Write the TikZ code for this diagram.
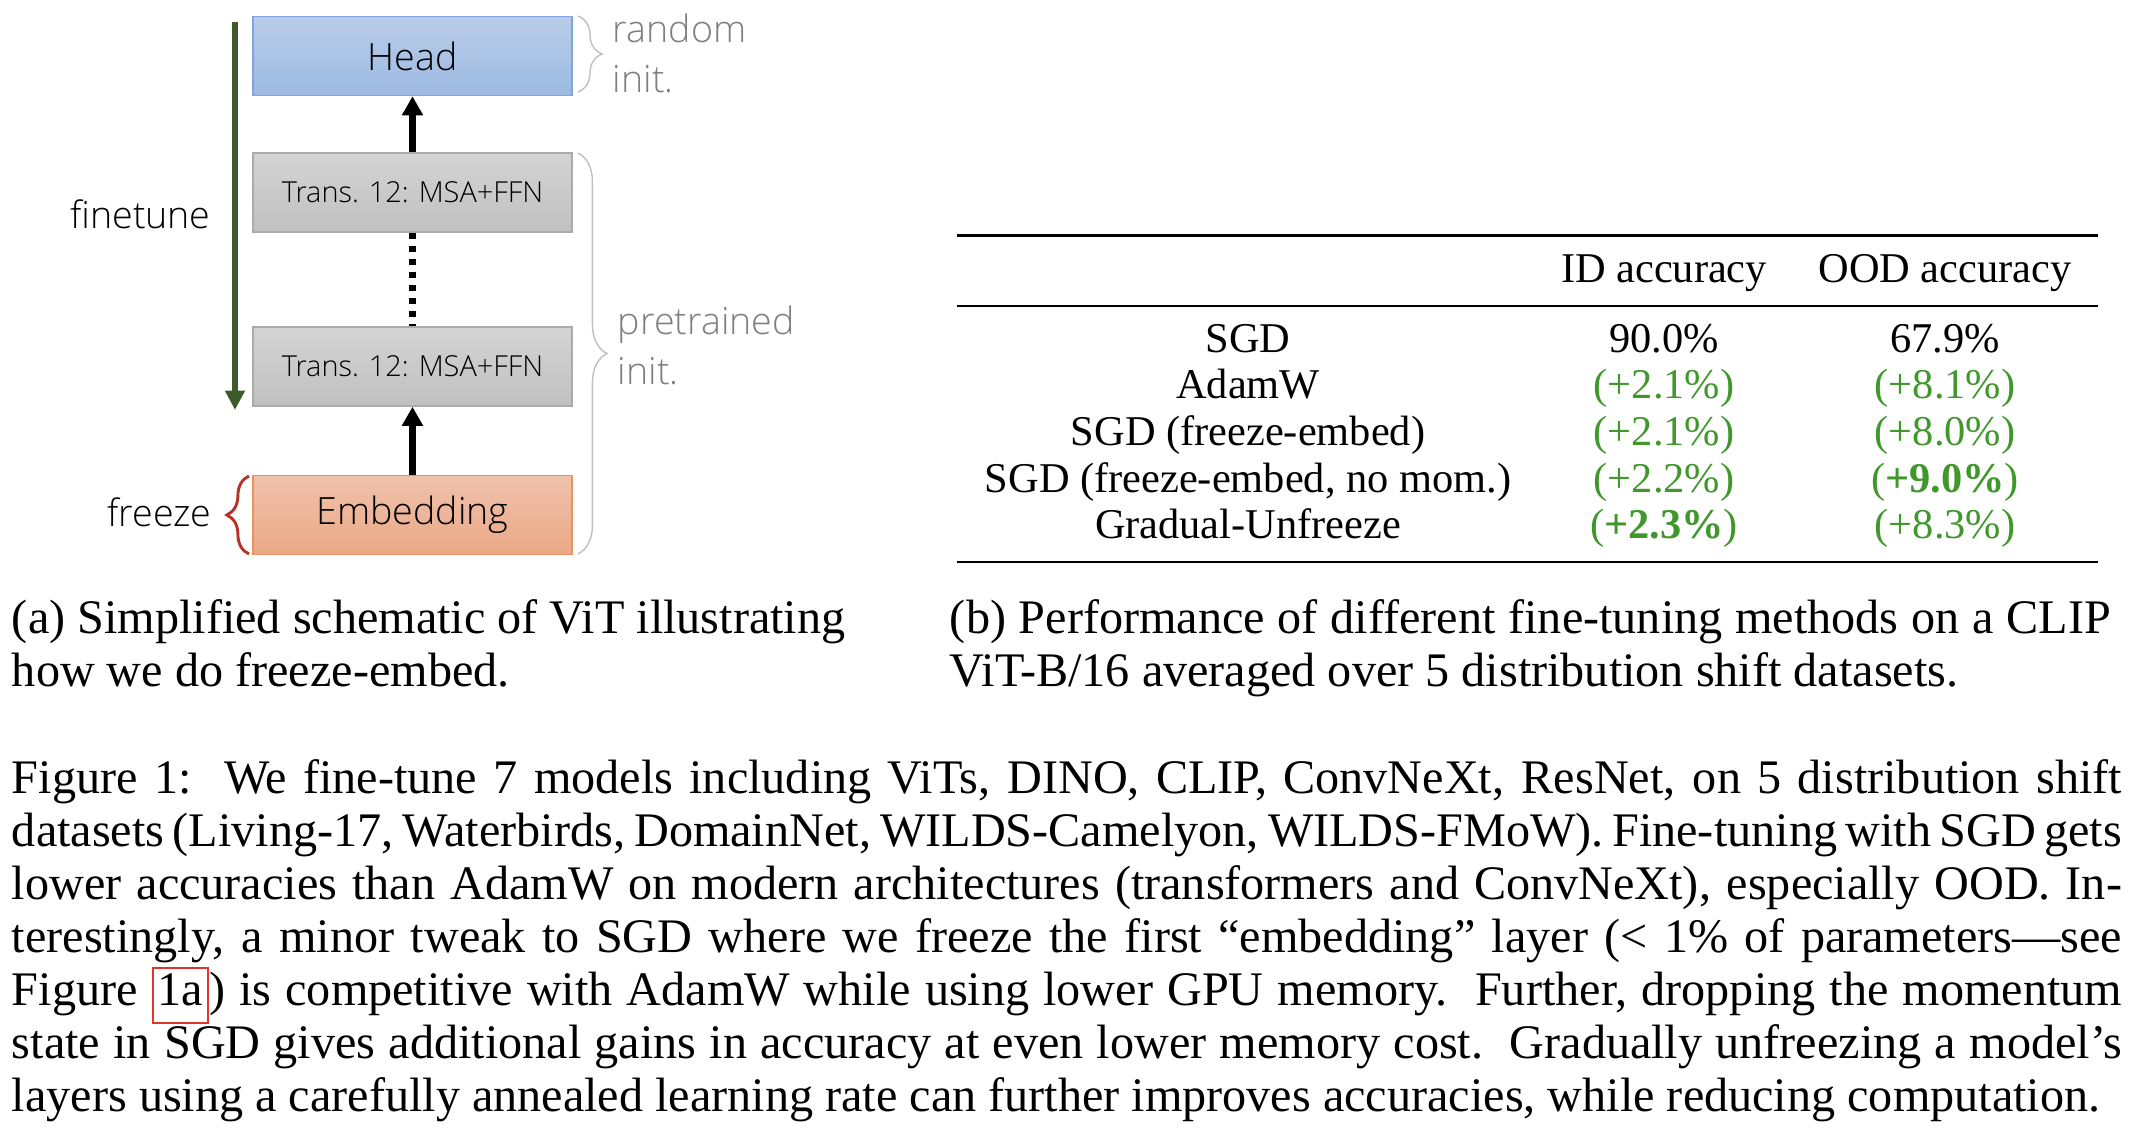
\documentclass[tikz,border=0pt]{standalone}
\usepackage{fontspec}
\setmainfont{Liberation Serif}
\newfontfamily\uifont{Open Sans Light}
\usetikzlibrary{arrows.meta,decorations.pathreplacing}
\definecolor{headtop}{HTML}{B9CDE9}
\definecolor{headbot}{HTML}{9CBAE1}
\definecolor{headline}{HTML}{7FA5DA}
\definecolor{grtop}{HTML}{D4D4D4}
\definecolor{grbot}{HTML}{C0C0C0}
\definecolor{grline}{HTML}{ABABAB}
\definecolor{emtop}{HTML}{EFC2AB}
\definecolor{embot}{HTML}{EBA886}
\definecolor{emline}{HTML}{E8925F}
\definecolor{ftgreen}{HTML}{3F5A2A}
\definecolor{frred}{HTML}{B8322A}
\definecolor{bracegray}{HTML}{C0C0C0}
\definecolor{labgray}{HTML}{7F7F7F}
\definecolor{tabgreen}{RGB}{64,151,44}
\definecolor{linkred}{HTML}{E0352B}
\begin{document}
\begin{tikzpicture}[x=0.20755pt,y=-0.20755pt,
  layerbox/.style={rectangle, minimum width=66.21pt, minimum height=16.4pt, line width=0.3pt, inner sep=0pt},
  headbox/.style={layerbox, draw=headline, top color=headtop, bottom color=headbot, font=\uifont\fontsize{7.8}{9}\selectfont},
  transbox/.style={layerbox, draw=grline, top color=grtop, bottom color=grbot, font=\uifont\fontsize{6.0}{8}\selectfont},
  embbox/.style={layerbox, draw=emline, top color=emtop, bottom color=embot, font=\uifont\fontsize{7.8}{9}\selectfont},
  flowarrow/.style={line width=1.25pt, -{Triangle[width=4.2pt,length=4pt]}},
  dotline/.style={line width=1.25pt, dash pattern=on 1.3pt off 1.4pt},
  uilabel/.style={inner sep=0pt, anchor=base, font=\uifont\fontsize{7.8}{9}\selectfont},
  graylabel/.style={inner sep=0pt, anchor=base west, text=labgray, font=\uifont\fontsize{7.8}{9}\selectfont},
  rightbrace/.style={draw=bracegray, line width=0.3pt, decorate},
  tabtext/.style={inner sep=0pt, anchor=base, font=\fontsize{8.8}{10}\selectfont},
  tabgr/.style={tabtext, text=tabgreen},
  captext/.style={inner sep=0pt, anchor=base west, font=\fontsize{10}{11}\selectfont}
]
\useasboundingbox (0,0) rectangle (2134,1134);

% ---------- (a) schematic ----------
\node[headbox]  (head) at (412.5,56)    {Head};
\node[transbox] (t1)   at (412.5,192.5) {Trans. 12: MSA+FFN};
\node[transbox] (t2)   at (412.5,366.5) {Trans. 12: MSA+FFN};
\node[embbox]   (emb)  at (412.5,515)   {Embedding};

\draw[flowarrow] (t1.north) -- (head.south);
\draw[dotline] (t1.south) -- (t2.north);
\draw[flowarrow] (emb.north) -- (t2.south);

\coordinate (ftA) at (235,22);
\coordinate (ftB) at (235,410);
\draw[ftgreen, line width=1.25pt, -{Triangle[width=3.9pt,length=4pt]}] (ftA) -- (ftB);
\node[uilabel] (finetune) at (140.5,229) {finetune};

\coordinate (frA) at (249,554);
\coordinate (frB) at (249,476);
\draw[frred, line width=0.6pt, decorate, decoration={brace, amplitude=4.6pt}] (frA) -- (frB);
\node[uilabel] (freeze) at (159.5,527) {freeze};

\coordinate (rbA) at (578,16);
\coordinate (rbB) at (578,92);
\draw[rightbrace, decoration={brace, amplitude=5pt}] (rbA) -- (rbB);
\node[graylabel] (random) at (612,43) {random};
\node[graylabel] (init1) at (612,93) {init.};

\coordinate (pbA) at (578,153);
\coordinate (pbB) at (578,554);
\draw[rightbrace, decoration={brace, amplitude=6pt}] (pbA) -- (pbB);
\node[graylabel] (pretrained) at (617,335) {pretrained};
\node[graylabel] (init2) at (617,385) {init.};

% ---------- (b) table ----------
\draw[line width=0.62pt] (957,236) -- (2098,236);
\draw[line width=0.36pt] (957,306) -- (2098,306);
\draw[line width=0.62pt] (957,562) -- (2098,562);

\node[tabtext] (h2) at (1664,283) {ID accuracy};
\node[tabtext] (h3) at (1945,283) {OOD accuracy};

\node[tabtext] (r1a) at (1248,353) {SGD};
\node[tabtext] (r1b) at (1664,353) {90.0\%};
\node[tabtext] (r1c) at (1945,353) {67.9\%};

\node[tabtext] (r2a) at (1248,399) {AdamW};
\node[tabgr]   (r2b) at (1664,399) {(+2.1\%)};
\node[tabgr]   (r2c) at (1945,399) {(+8.1\%)};

\node[tabtext] (r3a) at (1248,446) {SGD (freeze-embed)};
\node[tabgr]   (r3b) at (1664,446) {(+2.1\%)};
\node[tabgr]   (r3c) at (1945,446) {(+8.0\%)};

\node[tabtext] (r4a) at (1248,493) {SGD (freeze-embed, no mom.)};
\node[tabgr]   (r4b) at (1664,493) {(+2.2\%)};
\node[tabgr]   (r4c) at (1945,493) {(\textbf{+9.0\%})};

\node[tabtext] (r5a) at (1248,539) {Gradual-Unfreeze};
\node[tabgr]   (r5b) at (1664,539) {(\textbf{+2.3\%})};
\node[tabgr]   (r5c) at (1945,539) {(+8.3\%)};

% ---------- subcaptions ----------
\node[captext] (sa1) at (11,634) {(a) Simplified schematic of ViT illustrating};
\node[captext] (sa2) at (11,687) {how we do freeze-embed.};
\node[captext] (sb1) at (949,634) {\makebox[240.96pt][s]{(b) Performance of different fine-tuning methods on a CLIP}};
\node[captext] (sb2) at (949,687) {ViT-B/16 averaged over 5 distribution shift datasets.};

% ---------- caption ----------
\node[captext] (c1) at (11,794) {\makebox[437.93pt][s]{Figure 1:\ \ We fine-tune 7 models including ViTs, DINO, CLIP, ConvNeXt, ResNet, on 5 distribution shift}};
\node[captext] (c2) at (11,847) {\makebox[437.93pt][s]{datasets (Living-17, Waterbirds, DomainNet, WILDS-Camelyon, WILDS-FMoW). Fine-tuning with SGD gets}};
\node[captext] (c3) at (11,900) {\makebox[437.93pt][s]{lower accuracies than AdamW on modern architectures (transformers and ConvNeXt), especially OOD. In-}};
\node[captext] (c4) at (11,953) {\makebox[437.93pt][s]{terestingly, a minor tweak to SGD where we freeze the first ``embedding'' layer (< 1\% of parameters---see}};
\node[captext] (c5) at (11,1006) {\makebox[437.93pt][s]{Figure {\setlength{\fboxsep}{0pt}\setlength{\fboxrule}{0.45pt}\color{linkred}\fbox{\kern0.8pt\color{black}\strut 1a\kern0.8pt}}) is competitive with AdamW while using lower GPU memory.\ \ Further, dropping the momentum}};
\node[captext] (c6) at (11,1059) {\makebox[437.93pt][s]{state in SGD gives additional gains in accuracy at even lower memory cost.\ \ Gradually unfreezing a model's}};
\node[captext] (c7) at (11,1112) {layers using a carefully annealed learning rate can further improves accuracies, while reducing computation.};
\end{tikzpicture}
\end{document}
